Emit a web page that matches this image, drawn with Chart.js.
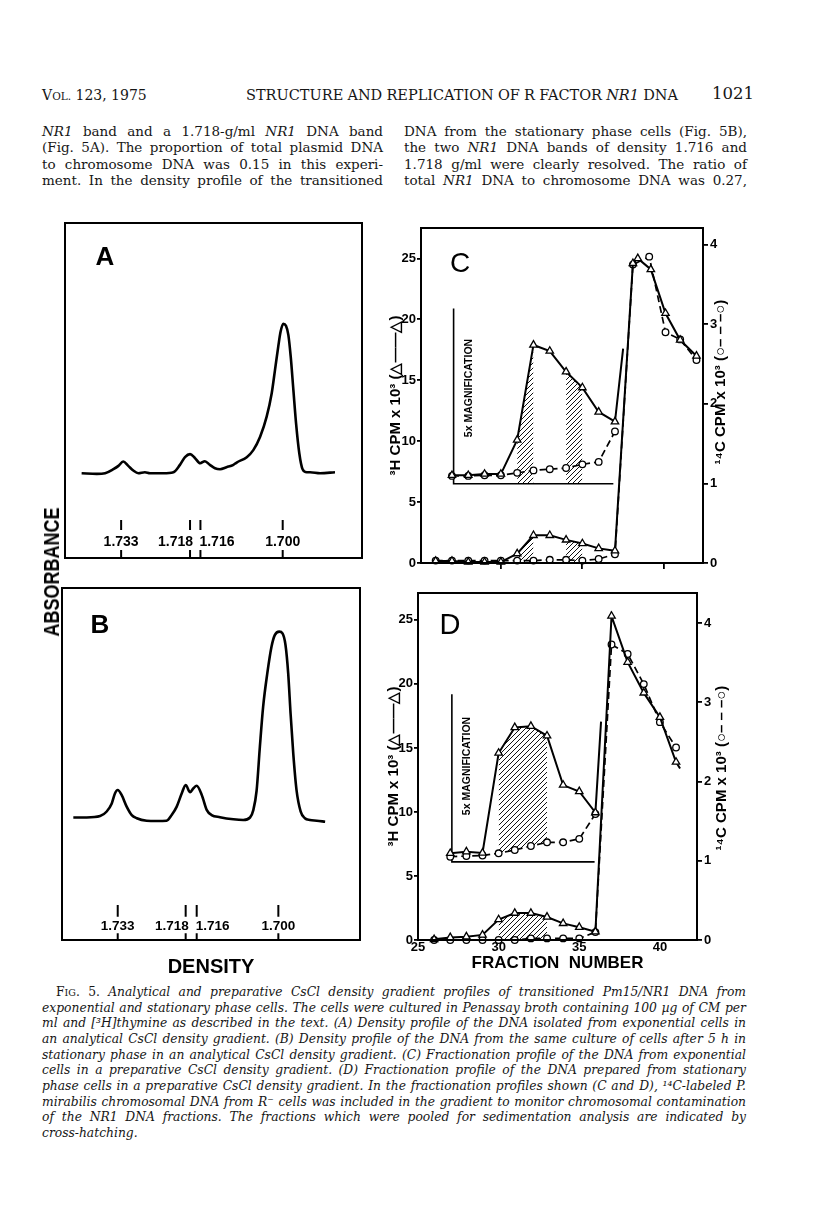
<!DOCTYPE html>
<html>
<head>
<meta charset="utf-8">
<title>Fig. 5 - CsCl density gradient profiles</title>
<script src="https://cdn.jsdelivr.net/npm/chart.js@4.4.1/dist/chart.umd.min.js"></script>
<style>
  html, body { margin: 0; padding: 0; background: #fff; }
  body { position: relative; width: 816px; height: 1230px; overflow: hidden; color: #161616; }
  .box { position: absolute; }
  .tx { position: absolute; font-family: 'DejaVu Serif', 'Liberation Serif', serif; line-height: 16px; white-space: nowrap; }
  .tx > span { display: inline-block; white-space: nowrap; transform-origin: 0 50%; }
  .body { font-size: 13.5px; }
  .cap { font-style: italic; font-size: 12.3px; }
  .lbl { position: absolute; font-family: 'Liberation Sans', Arial, sans-serif; font-weight: bold; line-height: 1; white-space: nowrap; color: #000; transform: translate(-50%, -50%) rotate(-90deg); }
  .pl { position: absolute; font-family: 'Liberation Sans', Arial, sans-serif; line-height: 1; color: #000; transform: translate(-50%, -50%); }
</style>
</head>
<body>

<!-- running head -->
<div class="tx" style="left:42px;top:87px;font-size:14px;">V<span style="font-size:10.5px;display:inline;">OL.</span> 123, 1975</div>
<div class="tx jl" data-w="432" style="left:246px;top:87px;font-size:14.5px;"><span>STRUCTURE AND REPLICATION OF R FACTOR <i>NR1</i> DNA</span></div>
<div class="tx" style="left:712px;top:86px;font-size:16.5px;">1021</div>

<!-- body text -->
<div class="tx body jl" data-w="341" style="left:42px;top:123px;"><span><i>NR1</i> band and a 1.718-g/ml <i>NR1</i> DNA band</span></div>
<div class="tx body jl" data-w="341" style="left:42px;top:139.3px;"><span>(Fig. 5A). The proportion of total plasmid DNA</span></div>
<div class="tx body jl" data-w="341" style="left:42px;top:155.6px;"><span>to chromosome DNA was 0.15 in this experi-</span></div>
<div class="tx body jl" data-w="341" style="left:42px;top:172px;"><span>ment. In the density profile of the transitioned</span></div>
<div class="tx body jl" data-w="343" style="left:404px;top:123px;"><span>DNA from the stationary phase cells (Fig. 5B),</span></div>
<div class="tx body jl" data-w="343" style="left:404px;top:139.3px;"><span>the two <i>NR1</i> DNA bands of density 1.716 and</span></div>
<div class="tx body jl" data-w="343" style="left:404px;top:155.6px;"><span>1.718 g/ml were clearly resolved. The ratio of</span></div>
<div class="tx body jl" data-w="343" style="left:404px;top:172px;"><span>total <i>NR1</i> DNA to chromosome DNA was 0.27,</span></div>

<!-- charts -->
<div class="box" style="left:0px;top:200px;width:400px;height:380px;"><canvas id="chartA"></canvas></div>
<div class="box" style="left:0px;top:570px;width:400px;height:410px;"><canvas id="chartB"></canvas></div>
<div class="box" style="left:386px;top:215px;width:354px;height:365px;"><canvas id="chartC"></canvas></div>
<div class="box" style="left:384px;top:580px;width:356px;height:395px;"><canvas id="chartD"></canvas></div>

<!-- labels set on the figure -->
<div class="lbl" style="left:52px;top:572px;font-size:18px;transform:translate(-50%,-50%) rotate(-90deg) scaleY(1.2);">ABSORBANCE</div>
<div class="pl" style="left:105px;top:256px;font-size:26px;font-weight:bold;">A</div>
<div class="pl" style="left:100px;top:624px;font-size:26px;font-weight:bold;">B</div>
<div class="pl" style="left:460px;top:263px;font-size:28px;">C</div>
<div class="pl" style="left:450px;top:624px;font-size:29px;">D</div>
<div class="lbl" style="left:468px;top:388px;font-size:10.5px;">5x MAGNIFICATION</div>
<div class="lbl" style="left:466px;top:766px;font-size:10.5px;">5x MAGNIFICATION</div>
<div class="lbl" style="left:719px;top:382px;font-size:15px;">¹⁴C CPM x 10³ (○– – –○)</div>
<div class="lbl" style="left:720px;top:768px;font-size:15px;">¹⁴C CPM x 10³ (○– – –○)</div>

<!-- legend -->
<div class="tx cap jl" data-w="690" style="left:56px;top:984px;"><span><span style="font-style:normal;">F<span style="font-size:9.5px;">IG</span>. 5.</span> Analytical and preparative CsCl density gradient profiles of transitioned Pm15/NR1 DNA from</span></div>
<div class="tx cap jl" data-w="704" style="left:42px;top:999.7px;"><span>exponential and stationary phase cells. The cells were cultured in Penassay broth containing 100 µg of CM per</span></div>
<div class="tx cap jl" data-w="704" style="left:42px;top:1015.3px;"><span>ml and [³H]thymine as described in the text. (A) Density profile of the DNA isolated from exponential cells in</span></div>
<div class="tx cap jl" data-w="704" style="left:42px;top:1031px;"><span>an analytical CsCl density gradient. (B) Density profile of the DNA from the same culture of cells after 5 h in</span></div>
<div class="tx cap jl" data-w="704" style="left:42px;top:1046.7px;"><span>stationary phase in an analytical CsCl density gradient. (C) Fractionation profile of the DNA from exponential</span></div>
<div class="tx cap jl" data-w="704" style="left:42px;top:1062.3px;"><span>cells in a preparative CsCl density gradient. (D) Fractionation profile of the DNA prepared from stationary</span></div>
<div class="tx cap jl" data-w="704" style="left:42px;top:1078px;"><span>phase cells in a preparative CsCl density gradient. In the fractionation profiles shown (C and D), ¹⁴C-labeled P.</span></div>
<div class="tx cap jl" data-w="704" style="left:42px;top:1093.7px;"><span>mirabilis chromosomal DNA from R⁻ cells was included in the gradient to monitor chromosomal contamination</span></div>
<div class="tx cap jl" data-w="704" style="left:42px;top:1109.3px;"><span>of the NR1 DNA fractions. The fractions which were pooled for sedimentation analysis are indicated by</span></div>
<div class="tx cap" style="left:42px;top:1125px;"><span>cross-hatching.</span></div>

<script>
// ---- A / B: analytical scans (scan position, relative absorbance) ----
var scanA_x = [5.6, 10.7, 13.5, 16.3, 18.0, 19.6, 21.3, 23.0, 24.7, 26.9, 28.6, 33.1, 36.5, 38.7, 40.4, 42.1, 43.8, 45.5, 47.1, 48.8,
               50.5, 52.2, 54.4, 56.7, 57.8, 61.2, 63.4, 65.7, 67.9, 69.6, 70.7, 71.8, 72.6, 73.5, 74.4, 75.2, 76.0, 76.9, 77.8, 78.9,
               80.0, 81.4, 82.5, 85.9, 90.9];
var scanA_y = [25.3, 25.1, 25.3, 26.5, 27.5, 28.8, 27.5, 26.1, 25.3, 25.6, 25.3, 25.3, 25.6, 27.8, 30.1, 31.0, 29.8, 28.3, 28.9, 27.8,
               26.8, 26.5, 27.1, 27.8, 28.5, 30.1, 32.2, 36.2, 42.2, 49.2, 56.1, 63.1, 67.6, 69.9, 69.3, 66.6, 60.1, 50.1, 40.2, 31.2,
               26.5, 25.6, 25.6, 25.3, 25.6];
var scanB_x = [3.8, 8.3, 12.8, 15.0, 16.7, 17.8, 18.7, 20.0, 21.7, 23.4, 25.1, 28.4, 31.8, 35.1, 36.8, 38.5, 40.2, 41.5, 43.0, 44.1,
               45.2, 46.9, 48.6, 50.2, 53.0, 57.5, 60.8, 63.1, 64.2, 65.3, 66.4, 67.5, 68.9, 70.3, 71.4, 72.9, 74.0, 75.0, 75.9, 76.7,
               77.6, 78.7, 80.1, 81.5, 83.2, 85.5, 88.3];
var scanB_y = [34.8, 34.8, 35.2, 36.5, 38.8, 41.7, 42.6, 41.2, 37.9, 35.5, 34.6, 33.9, 33.8, 33.9, 35.5, 37.9, 41.7, 44.0, 42.0, 43.1,
               43.8, 41.2, 36.9, 35.5, 34.9, 34.3, 34.1, 34.8, 36.9, 42.4, 54.9, 66.3, 75.8, 83.3, 86.6, 87.6, 87.1, 83.8, 75.8, 64.4,
               53.0, 42.6, 36.5, 34.6, 34.1, 33.9, 33.6];
var densityLabels = ['1.733', '1.718', '1.716', '1.700'];
var markPosA = [18.9, 42.1, 45.6, 73.3];
var markPosB = [18.7, 41.5, 45.2, 72.6];

// ---- C: exponential cells ----
var fracC   = [26, 27, 28, 29, 30, 31, 32, 33, 34, 35, 36, 37, 38.1, 38.4, 39.2, 40.1, 41.0, 42.0];
var h3C     = [0.16, 0.16, 0.08, 0.08, 0.08, 0.77, 2.27, 2.27, 1.9, 1.6, 1.2, 1.0, 24.6, 25.0, 24.1, 20.5, 18.3, 17.0];
var fracC14 = [26, 27, 28, 29, 30, 31, 32, 33, 34, 35, 36, 37, 38.1, 39.1, 40.1, 41.0, 42.0];
var c14C    = [0.03, 0.03, 0.03, 0.03, 0.03, 0.03, 0.03, 0.04, 0.04, 0.03, 0.05, 0.11, 3.75, 3.85, 2.90, 2.81, 2.55];
var insetFracC   = [27, 28, 29, 30, 31, 32, 33, 34, 35, 36, 37, 37.5];
var h3InsetC     = [7.2, 7.2, 7.3, 7.3, 10.1, 17.9, 17.4, 15.7, 14.4, 12.4, 11.6, 17.6];
var insetFracC14 = [27, 28, 29, 30, 31, 32, 33, 34, 35, 36, 37];
var c14InsetC    = [7.15, 7.15, 7.2, 7.2, 7.4, 7.6, 7.7, 7.8, 8.1, 8.3, 10.8];
var insetAxisCx = [27.1, 27.1, 36.9];
var insetAxisCy = [20.9, 6.5, 6.5];
var pooledC = [[31, 32], [34, 35]];

// ---- D: stationary phase cells ----
var fracD   = [26, 27, 28, 29, 30, 31, 32, 33, 34, 35, 36, 37, 38, 39, 40, 41, 41.25];
var h3D     = [0.05, 0.2, 0.26, 0.4, 1.6, 2.1, 2.1, 1.8, 1.3, 1.0, 0.65, 25.3, 21.7, 19.3, 17.4, 13.9, 13.4];
var fracD14 = [26, 27, 28, 29, 30, 31, 32, 33, 34, 35, 36, 37, 38, 39, 40, 41];
var c14D    = [0, 0, 0, 0, 0, 0, 0.02, 0.02, 0.02, 0.02, 0.1, 3.73, 3.61, 3.23, 2.75, 2.43];
var insetFracD   = [27, 28, 29, 30, 31, 32, 33, 34, 35, 36, 36.35];
var h3InsetD     = [6.77, 6.9, 6.8, 14.6, 16.6, 16.7, 15.95, 12.1, 11.6, 9.95, 17.05];
var insetFracD14 = [27, 28, 29, 30, 31, 32, 33, 34, 35, 36];
var c14InsetD    = [6.5, 6.56, 6.6, 6.77, 7.03, 7.34, 7.63, 7.63, 7.9, 9.84];
var insetAxisDx = [27.1, 27.1, 35.95];
var insetAxisDy = [19.2, 6.1, 6.1];
var pooledD = [[30, 33]];

var cpmTicks = [0, 5, 10, 15, 20, 25];
var c14Ticks = [0, 1, 2, 3, 4];

Chart.defaults.font.family = "'Liberation Sans', Arial, sans-serif";
Chart.defaults.color = '#000';
Chart.defaults.animation = false;
Chart.defaults.plugins.legend.display = false;
Chart.defaults.plugins.tooltip.enabled = false;

function pts(xs, ys) { return xs.map(function (x, i) { return { x: x, y: ys[i] }; }); }
function within(xs, ys, lo, hi) { return pts(xs, ys).filter(function (p) { return p.x >= lo && p.x <= hi; }); }

// diagonal hatching for the pooled fractions
var tile = document.createElement('canvas');
tile.width = 5; tile.height = 5;
var tg = tile.getContext('2d');
tg.strokeStyle = '#111'; tg.lineWidth = 1;
tg.beginPath();
tg.moveTo(0, 5); tg.lineTo(5, 0);
tg.moveTo(-1, 1); tg.lineTo(1, -1);
tg.moveTo(4, 6); tg.lineTo(6, 4);
tg.stroke();
var hatch = tg.createPattern(tile, 'repeat');

var frame = {
  id: 'frame',
  afterDraw: function (chart) {
    var a = chart.chartArea, ctx = chart.ctx;
    ctx.save();
    ctx.strokeStyle = '#000';
    ctx.lineWidth = 2;
    ctx.strokeRect(a.left, a.top, a.right - a.left, a.bottom - a.top);
    ctx.restore();
  }
};

// density markers under the scans
var densityMarks = {
  id: 'densityMarks',
  afterDraw: function (chart, args, o) {
    var ctx = chart.ctx, xs = chart.scales.x, b = chart.chartArea.bottom;
    ctx.save();
    ctx.strokeStyle = '#000';
    ctx.fillStyle = '#000';
    ctx.lineWidth = 2;
    ctx.font = 'bold ' + o.size + "px 'Liberation Sans', Arial, sans-serif";
    ctx.textBaseline = 'middle';
    o.pos.forEach(function (p, i) {
      var px = xs.getPixelForValue(p);
      ctx.beginPath();
      ctx.moveTo(px, b); ctx.lineTo(px, b - o.lower);
      ctx.moveTo(px, b - o.upperFrom); ctx.lineTo(px, b - o.upperTo);
      ctx.stroke();
      ctx.textAlign = o.align[i];
      ctx.fillText(o.labels[i], px + o.shift[i], b - o.labelY);
    });
    ctx.restore();
  }
};

function scanChart(id, xs, ys, pos, cfg) {
  return new Chart(document.getElementById(id), {
    type: 'line',
    data: { datasets: [{ data: pts(xs, ys), borderColor: '#000', borderWidth: 2.6, pointRadius: 0, cubicInterpolationMode: 'monotone', fill: false }] },
    options: {
      maintainAspectRatio: false,
      layout: { padding: cfg.padding },
      scales: {
        x: {
          type: 'linear', min: 0, max: 100,
          display: !!cfg.title,
          afterFit: function (s) { s.height = cfg.xHeight || 0; },
          grid: { display: false },
          border: { display: false },
          ticks: { display: false },
          title: { display: !!cfg.title, text: cfg.title, color: '#000', font: { size: 20, weight: 'bold' }, padding: { top: 0, bottom: 1 } }
        },
        y: { min: 0, max: 100, display: false }
      },
      plugins: {
        densityMarks: { labels: densityLabels, pos: pos, align: ['center', 'right', 'left', 'center'], shift: [0, 3, -1, 0],
                        lower: cfg.lower, upperFrom: cfg.upperFrom, upperTo: cfg.upperTo, labelY: cfg.labelY, size: cfg.size }
      }
    },
    plugins: [frame, densityMarks]
  });
}

scanChart('chartA', scanA_x, scanA_y, markPosA,
  { padding: { left: 65, right: 38, top: 23, bottom: 22 }, lower: 8, upperFrom: 28, upperTo: 38, labelY: 15.7, size: 14 });
scanChart('chartB', scanB_x, scanB_y, markPosB,
  { padding: { left: 62, right: 40, top: 18, bottom: 0 }, xHeight: 40, title: 'DENSITY', lower: 6.7, upperFrom: 23.3, upperTo: 35, labelY: 13.3, size: 13.5 });

var tri = { pointStyle: 'triangle', pointBackgroundColor: '#fff', pointBorderColor: '#000', pointBorderWidth: 1.3 };
var circ = { pointStyle: 'circle', pointBackgroundColor: '#fff', pointBorderColor: '#000', pointBorderWidth: 1.3 };
var hatchStyle = { backgroundColor: hatch, borderColor: 'rgba(0,0,0,0)', borderWidth: 0, pointRadius: 0 };
var hiddenStyle = { borderColor: 'rgba(0,0,0,0)', borderWidth: 0, pointRadius: 0, fill: false };
var tickFont = { size: 13, weight: 'bold' };
function marked(n, r) { return function (c) { return c.dataIndex < n ? r : 0; }; }

function fractionChart(id, p) {
  var sets = [
    Object.assign({ data: pts(p.frac, p.h3), yAxisID: 'y', borderColor: '#000', borderWidth: 2 }, tri, { pointRadius: marked(p.h3Marked, 4.3) }),
    Object.assign({ data: pts(p.frac14, p.c14), yAxisID: 'y2', borderColor: '#000', borderWidth: 1.7, borderDash: [7, 4] }, circ, { pointRadius: 3.3 }),
    Object.assign({ data: pts(p.insetFrac, p.h3Inset), yAxisID: 'y', borderColor: '#000', borderWidth: 2 }, tri, { pointRadius: marked(p.insetMarked, 4.3) }),
    Object.assign({ data: pts(p.insetFrac14, p.c14Inset), yAxisID: 'y', borderColor: '#000', borderWidth: 1.7, borderDash: [7, 4] }, circ, { pointRadius: 3.3 }),
    { data: pts(p.axisX, p.axisY), yAxisID: 'y', borderColor: '#000', borderWidth: 1.6, pointRadius: 0 }
  ];
  p.pooled.forEach(function (r) {
    sets.push(Object.assign({ data: within(p.frac, p.h3, r[0], r[1]), yAxisID: 'y', fill: 'origin' }, hatchStyle));
    if (p.insetFloor === 'c14') {
      sets.push(Object.assign({ data: within(p.insetFrac14, p.c14Inset, r[0], r[1]), yAxisID: 'y' }, hiddenStyle));
      sets.push(Object.assign({ data: within(p.insetFrac, p.h3Inset, r[0], r[1]), yAxisID: 'y', fill: '-1' }, hatchStyle));
    } else {
      sets.push(Object.assign({ data: within(p.insetFrac, p.h3Inset, r[0], r[1]), yAxisID: 'y', fill: { value: p.insetBase } }, hatchStyle));
    }
  });
  sets.forEach(function (s) { s.clip = false; s.tension = 0; });

  return new Chart(document.getElementById(id), {
    type: 'line',
    data: { datasets: sets },
    options: {
      maintainAspectRatio: false,
      layout: { padding: { top: 13, left: 0, right: 0, bottom: 0 } },
      scales: {
        x: {
          type: 'linear', min: p.xMin, max: p.xMax,
          afterBuildTicks: function (s) { s.ticks = p.xTicks.map(function (v) { return { value: v }; }); },
          afterFit: function (s) { s.height = p.xHeight; },
          border: { display: false },
          grid: { display: p.xTickMarks, drawOnChartArea: false, drawTicks: p.xTickMarks, tickLength: 6, color: '#000', lineWidth: 1.8 },
          ticks: { display: p.xLabels, padding: 0, font: tickFont, color: '#000', autoSkip: false, maxRotation: 0 },
          title: { display: !!p.xTitle, text: p.xTitle || '', color: '#000', font: { size: 17, weight: 'bold' }, padding: { top: 0, bottom: 1 } }
        },
        y: {
          position: 'left', min: 0, max: p.yMax,
          afterBuildTicks: function (s) { s.ticks = cpmTicks.map(function (v) { return { value: v }; }); },
          afterFit: function (s) { s.width = p.yWidth; },
          border: { display: false },
          grid: { drawOnChartArea: false, tickLength: 4, color: '#000', lineWidth: 1.8 },
          ticks: { padding: 1, font: tickFont, color: '#000' },
          title: { display: true, text: '³H CPM x 10³ (△——△)', color: '#000', font: { size: 15, weight: 'bold' }, padding: { top: 1, bottom: 0 } }
        },
        y2: {
          position: 'right', min: 0, max: p.y2Max,
          afterBuildTicks: function (s) { s.ticks = c14Ticks.map(function (v) { return { value: v }; }); },
          afterFit: function (s) { s.width = p.y2Width; },
          border: { display: false },
          grid: { drawOnChartArea: false, tickLength: 5, color: '#000', lineWidth: 1.8 },
          ticks: { padding: 2, font: tickFont, color: '#000' }
        }
      }
    },
    plugins: [frame]
  });
}

fractionChart('chartC', {
  frac: fracC, h3: h3C, h3Marked: fracC.length, frac14: fracC14, c14: c14C,
  insetFrac: insetFracC, h3Inset: h3InsetC, insetMarked: insetFracC.length - 1,
  insetFrac14: insetFracC14, c14Inset: c14InsetC, axisX: insetAxisCx, axisY: insetAxisCy,
  pooled: pooledC, insetFloor: 'base', insetBase: insetAxisCy[1],
  xMin: 25.1, xMax: 42.4, xTicks: [30, 35, 40], xTickMarks: true, xLabels: false, xHeight: 17,
  yMax: 27.5, y2Max: 4.21, yWidth: 35, y2Width: 37
});

fractionChart('chartD', {
  frac: fracD, h3: h3D, h3Marked: fracD.length - 1, frac14: fracD14, c14: c14D,
  insetFrac: insetFracD, h3Inset: h3InsetD, insetMarked: insetFracD.length - 1,
  insetFrac14: insetFracD14, c14Inset: c14InsetD, axisX: insetAxisDx, axisY: insetAxisDy,
  pooled: pooledD, insetFloor: 'c14',
  xMin: 25, xMax: 42.3, xTicks: [25, 30, 35, 40], xTickMarks: false, xLabels: true, xHeight: 35, xTitle: 'FRACTION  NUMBER',
  yMax: 27.1, y2Max: 4.38, yWidth: 34, y2Width: 43
});

// justify the set lines of text to their measured widths
function fitLines() {
  document.querySelectorAll('.jl').forEach(function (el) {
    var span = el.firstElementChild;
    span.style.wordSpacing = '0px';
    span.style.transform = 'none';
    var W = parseFloat(el.dataset.w);
    var nat = span.getBoundingClientRect().width;
    var gaps = (span.textContent.match(/ /g) || []).length;
    var ws = gaps ? (W - nat) / gaps : 0;
    if (ws < -1) { span.style.transform = 'scaleX(' + (W / nat) + ')'; ws = 0; }
    span.style.wordSpacing = ws + 'px';
  });
}
fitLines();
if (document.fonts && document.fonts.ready) document.fonts.ready.then(fitLines);
</script>
</body>
</html>
